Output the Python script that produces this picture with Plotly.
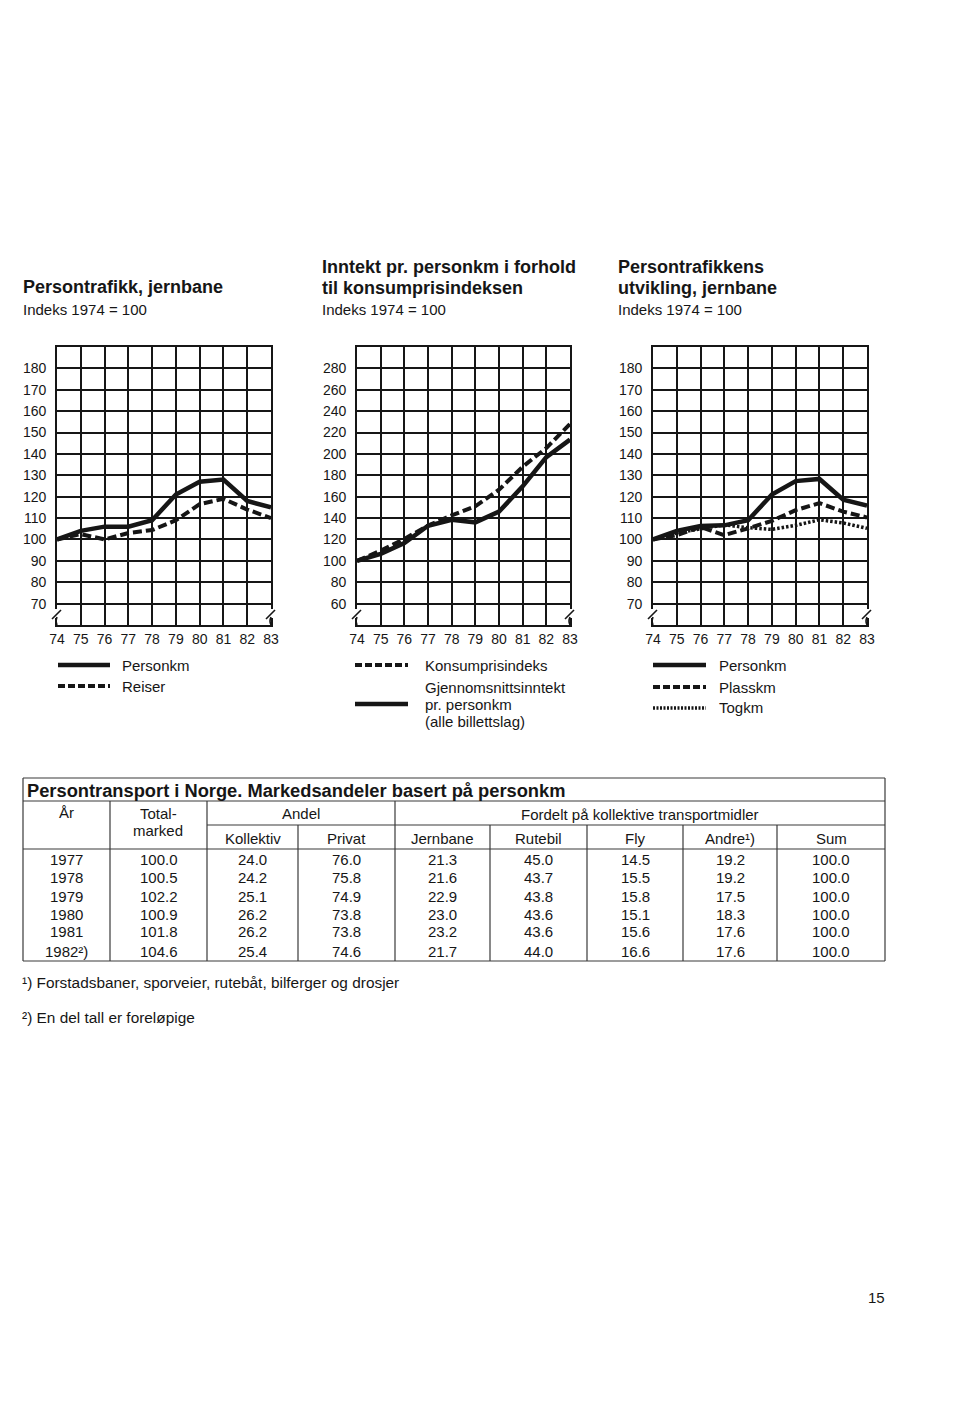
import plotly.graph_objects as go

W, H = 960, 1405
OFF = 8  # page body margin the figure is rendered with
FONT = "Liberation Sans, Arial, Helvetica, sans-serif"
INK = "#161616"

# ---------------- data ----------------
years = [74, 75, 76, 77, 78, 79, 80, 81, 82, 83]
year_labels = ["74", "75", "76", "77", "78", "79", "80", "81", "82", "83"]

# Chart 1: Persontrafikk, jernbane
c1_personkm = [100, 104, 106, 106, 109, 121, 127, 128, 118, 115]
c1_reiser = [100, 102.5, 100, 103, 104.4, 109, 116.5, 119, 114, 110]

# Chart 2: Inntekt pr. personkm i forhold til konsumprisindeksen
c2_konsumpris = [100, 109.5, 120.5, 133, 142.5, 151, 166.5, 188, 205.5, 228]
c2_inntekt = [100, 106.6, 116.6, 132.8, 138.4, 136, 146, 169.7, 197, 213.4]

# Chart 3: Persontrafikkens utvikling, jernbane
c3_personkm = [100, 104, 106.3, 106.6, 109, 121, 127.3, 128.3, 118.6, 115.8]
c3_plasskm = [100, 102, 105.8, 102, 105.2, 108.7, 113.7, 117, 113, 110.3]
c3_togkm = [100, 103, 105, 106.8, 105.5, 104.7, 106.6, 109.2, 107.7, 105.2]

y1_ticks = [60, 70, 80, 90, 100, 110, 120, 130, 140, 150, 160, 170, 180, 190]
y1_labels = ["", "70", "80", "90", "100", "110", "120", "130", "140", "150", "160", "170", "180", ""]
y2_ticks = [40, 60, 80, 100, 120, 140, 160, 180, 200, 220, 240, 260, 280, 300]
y2_labels = ["", "60", "80", "100", "120", "140", "160", "180", "200", "220", "240", "260", "280", ""]

# Table data
tbl_title = "Persontransport i Norge. Markedsandeler basert på personkm"
tbl_years = ["1977", "1978", "1979", "1980", "1981", "1982²)"]
tbl_total = ["100.0", "100.5", "102.2", "100.9", "101.8", "104.6"]
tbl_kollektiv = ["24.0", "24.2", "25.1", "26.2", "26.2", "25.4"]
tbl_privat = ["76.0", "75.8", "74.9", "73.8", "73.8", "74.6"]
tbl_jernbane = ["21.3", "21.6", "22.9", "23.0", "23.2", "21.7"]
tbl_rutebil = ["45.0", "43.7", "43.8", "43.6", "43.6", "44.0"]
tbl_fly = ["14.5", "15.5", "15.8", "15.1", "15.6", "16.6"]
tbl_andre = ["19.2", "19.2", "17.5", "18.3", "17.6", "17.6"]
tbl_sum = ["100.0", "100.0", "100.0", "100.0", "100.0", "100.0"]
tbl_sub_headers = ["Kollektiv", "Privat", "Jernbane", "Rutebil", "Fly", "Andre¹)", "Sum"]

footnote1 = "¹) Forstadsbaner, sporveier, rutebåt, bilferger og drosjer"
footnote2 = "²) En del tall er foreløpige"

# ---------------- helpers ----------------
def px(x):
    return (x - OFF) / W

def py(y):
    return 1 - (y - OFF) / H

annotations = []
shapes = []

def text(x, y, s, size=15, bold=False, anchor="left", color=INK):
    annotations.append(dict(
        x=px(x), y=py(y), xref="paper", yref="paper", text=("<b>%s</b>" % s) if bold else s,
        showarrow=False, xanchor=anchor, yanchor="middle", borderpad=0, borderwidth=0,
        font=dict(family=FONT, size=size, color=color)))

def hline(x0, x1, y, width=1, color=INK, dash="solid"):
    shapes.append(dict(type="line", xref="paper", yref="paper", x0=px(x0), x1=px(x1),
                       y0=py(y), y1=py(y), line=dict(color=color, width=width, dash=dash)))

def vline(x, y0, y1, width=1, color=INK):
    shapes.append(dict(type="line", xref="paper", yref="paper", x0=px(x), x1=px(x),
                       y0=py(y0), y1=py(y1), line=dict(color=color, width=width)))

fig = go.Figure()

# plot areas (pixel boxes)
TOP, BOT = 347, 625
boxes = [(57, 271), (357, 570), (653, 867)]

SOLID = dict(color=INK, width=4.5)
DASHED = dict(color=INK, width=4, dash="9px,4px")
DOTTED = dict(color=INK, width=3.5, dash="2.5px,2px")

series = [
    (1, c1_personkm, SOLID, "Personkm"),
    (1, c1_reiser, DASHED, "Reiser"),
    (2, c2_konsumpris, DASHED, "Konsumprisindeks"),
    (2, c2_inntekt, SOLID, "Gjennomsnittsinntekt pr. personkm"),
    (3, c3_togkm, DOTTED, "Togkm"),
    (3, c3_plasskm, DASHED, "Plasskm"),
    (3, c3_personkm, SOLID, "Personkm"),
]
for ax, vals, ln, name in series:
    suf = "" if ax == 1 else str(ax)
    fig.add_trace(go.Scatter(x=years, y=vals, mode="lines", line=ln, name=name,
                             xaxis="x" + suf, yaxis="y" + suf, showlegend=False,
                             hoverinfo="skip"))

axis_common = dict(showgrid=True, gridcolor=INK, gridwidth=1.6, zeroline=False,
                   showline=True, linecolor=INK, linewidth=1.8, mirror=True, automargin=False,
                   ticks="", tickfont=dict(family=FONT, size=14, color=INK), fixedrange=True)

for i, (x0, x1) in enumerate(boxes, start=1):
    suf = "" if i == 1 else str(i)
    fig.update_layout(**{
        "xaxis" + suf: dict(axis_common, domain=[px(x0), px(x1)], range=[74, 83],
                            tickvals=years, ticktext=year_labels, anchor="y" + suf,
                            ticklabelstandoff=0),
        "yaxis" + suf: dict(axis_common, domain=[py(BOT), py(TOP)],
                            range=[40, 300] if i == 2 else [60, 190],
                            tickvals=y2_ticks if i == 2 else y1_ticks,
                            ticktext=y2_labels if i == 2 else y1_labels,
                            anchor="x" + suf, ticklabelstandoff=6),
    })

# axis break marks at bottom corners of each chart
for i, (x0, x1) in enumerate(boxes, start=1):
    for xe in (x0, x1):
        vline(xe, 609, 618, width=4, color="white")
        shapes.append(dict(type="line", xref="paper", yref="paper",
                           x0=px(xe - 5), x1=px(xe + 4), y0=py(619), y1=py(610),
                           line=dict(color=INK, width=1.6)))
        shapes.append(dict(type="path", xref="paper", yref="paper",
                           path="M %f %f Q %f %f %f %f" % (px(xe), py(617), px(xe - 2), py(621), px(xe), py(625)),
                           line=dict(color=INK, width=1.6)))

# ---------------- titles ----------------
text(23, 287, "Persontrafikk, jernbane", size=18, bold=True)
text(23, 309, "Indeks 1974 = 100", size=15)
text(322, 267, "Inntekt pr. personkm i forhold", size=18, bold=True)
text(322, 288, "til konsumprisindeksen", size=18, bold=True)
text(322, 309, "Indeks 1974 = 100", size=15)
text(618, 267, "Persontrafikkens", size=18, bold=True)
text(618, 288, "utvikling, jernbane", size=18, bold=True)
text(618, 309, "Indeks 1974 = 100", size=15)

# ---------------- legends ----------------
hline(58, 110, 665, width=4.5)
text(122, 665, "Personkm")
hline(58, 110, 686, width=4, dash="7px,3px")
text(122, 686, "Reiser")

hline(355, 408, 665, width=4, dash="7px,3px")
text(425, 665, "Konsumprisindeks")
text(425, 687, "Gjennomsnittsinntekt")
hline(355, 408, 704, width=4.5)
text(425, 704, "pr. personkm")
text(425, 721, "(alle billettslag)")

hline(653, 706, 665, width=4.5)
text(719, 665, "Personkm")
hline(653, 706, 687, width=4, dash="7px,3px")
text(719, 687, "Plasskm")
hline(653, 706, 708, width=3.5, dash="2px,1.5px")
text(719, 708, "Togkm")

# ---------------- table ----------------
TL, TR, TT, TB = 23, 885, 778, 961
col_edges = [23, 110, 207, 298, 395, 490, 587, 683, 777, 885]
tw = 1.2
TBL_INK = "#3a3a3a"
hline(TL, TR, TT, width=tw, color=TBL_INK)
hline(TL, TR, TB, width=tw, color=TBL_INK)
vline(TL, TT, TB, width=tw, color=TBL_INK)
vline(TR, TT, TB, width=tw, color=TBL_INK)
hline(TL, TR, 801, width=tw, color=TBL_INK)
hline(207, TR, 825, width=tw, color=TBL_INK)
hline(TL, TR, 849, width=tw, color=TBL_INK)
for xe in [110, 207, 395]:
    vline(xe, 801, TB, width=tw, color=TBL_INK)
for xe in [298, 490, 587, 683, 777]:
    vline(xe, 825, TB, width=tw, color=TBL_INK)

text(27, 790, tbl_title, size=18.3, bold=True)
text(66, 812, "År", anchor="center")
text(158, 813, "Total-", anchor="center")
text(158, 830, "marked", anchor="center")
text(301, 813, "Andel", anchor="center")
text(640, 814, "Fordelt på kollektive transportmidler", anchor="center")
for j, h in enumerate(tbl_sub_headers):
    c = (col_edges[j + 2] + col_edges[j + 3]) / 2
    text(c, 838, h, anchor="center")

row_y = [859, 877, 896, 914, 932, 951]
cols = [tbl_years, tbl_total, tbl_kollektiv, tbl_privat, tbl_jernbane,
        tbl_rutebil, tbl_fly, tbl_andre, tbl_sum]
for j, col in enumerate(cols):
    c = (col_edges[j] + col_edges[j + 1]) / 2
    for r, v in enumerate(col):
        text(c, row_y[r], v, anchor="center")

text(22, 982, footnote1, size=15.4)
text(22, 1017, footnote2, size=15.4)
text(876, 1297, "15", anchor="center")

fig.update_layout(width=W, height=H,
                  margin=dict(l=0, r=0, t=0, b=0, pad=0, autoexpand=False),
                  paper_bgcolor="white", plot_bgcolor="white", showlegend=False,
                  annotations=annotations, shapes=shapes)

fig.write_html("out.html")
